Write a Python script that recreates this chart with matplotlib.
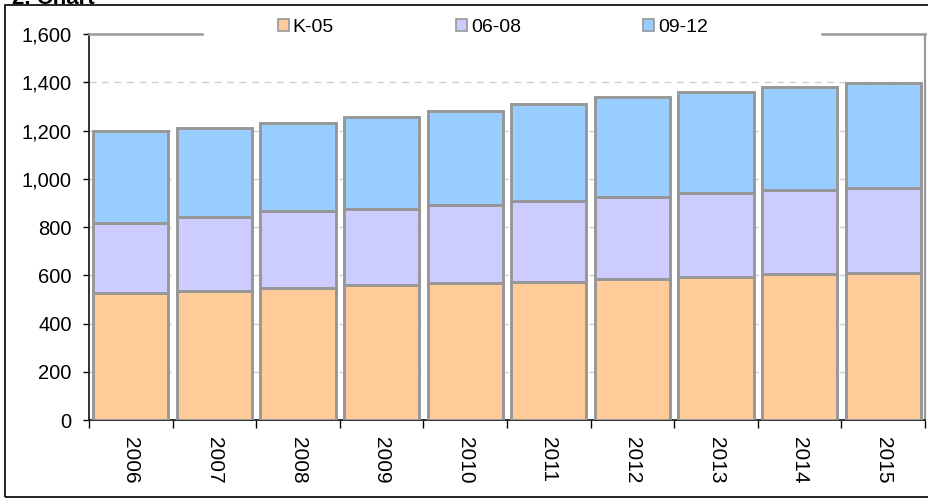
import matplotlib
matplotlib.use("Agg")
import matplotlib.pyplot as plt
from matplotlib.patches import Rectangle
from matplotlib.ticker import FuncFormatter
import numpy as np

years = ["2006", "2007", "2008", "2009", "2010", "2011", "2012", "2013", "2014", "2015"]
k_05 = [526, 536, 546, 558, 566, 572, 583, 594, 605, 611]
g06_08 = [292, 307, 319, 318, 324, 337, 343, 349, 348, 351]
g09_12 = [380, 366, 367, 381, 392, 402, 411, 416, 427, 433]

series = [("K-05", k_05, "#FFCC99"), ("06-08", g06_08, "#CCCCFF"), ("09-12", g09_12, "#99CCFF")]

plt.rcParams["font.family"] = ["Liberation Sans", "DejaVu Sans"]

fig = plt.figure(figsize=(9.29, 4.98), dpi=100)
ax = fig.add_axes([89 / 929, 1 - 420 / 498, 836 / 929, 386 / 498])

x = np.arange(len(years))
bottom = np.zeros(len(years))
for name, vals, col in series:
    ax.bar(x, vals, width=0.9, bottom=bottom, color=col, edgecolor="#979797",
           linewidth=2.1, label=name, zorder=3)
    bottom += np.array(vals)

ax.set_xlim(-0.5, len(years) - 0.5)
ax.set_ylim(0, 1600)
ax.set_yticks(np.arange(0, 1601, 200))
ax.yaxis.set_major_formatter(FuncFormatter(lambda v, p: f"{int(v):,}"))
ax.tick_params(axis="y", direction="out", length=4.5, width=1, color="black",
               labelsize=14.5, pad=8)

# ticks between categories, labels centred under bars
ax.set_xticks(np.arange(-0.5, len(years), 1))
ax.set_xticklabels([])
ax.set_xticks(x, minor=True)
ax.set_xticklabels(years, minor=True, rotation=270, fontsize=15)
ax.tick_params(axis="x", which="major", direction="out", length=6, width=1, color="black")
ax.tick_params(axis="x", which="minor", length=0, pad=12)

ax.yaxis.grid(True, color="#d0d0d0", linestyle=(0, (5, 4)), linewidth=1)
ax.get_ygridlines()[-1].set_visible(False)
ax.set_axisbelow(True)

ax.spines["left"].set_color("#222222")
ax.spines["left"].set_linewidth(1.3)
ax.spines["bottom"].set_color("#222222")
ax.spines["bottom"].set_linewidth(1.3)
ax.spines["right"].set_color("#999999")
ax.spines["right"].set_linewidth(1.6)
ax.spines["top"].set_visible(False)

# top border of the plot area, broken where the legend sits
for x0, x1 in [(0, (202 - 89) / 836), ((822 - 89) / 836, 1)]:
    ax.plot([x0, x1], [1, 1], transform=ax.transAxes, color="#999999",
            linewidth=1.8, clip_on=False, zorder=5)

leg = ax.legend(loc="center", bbox_to_anchor=(0.483, 1.018), ncol=3, frameon=False,
                fontsize=14, handlelength=0.55, handleheight=0.55, handletextpad=0.2,
                columnspacing=6.3, borderaxespad=0)
for h in leg.legend_handles:
    h.set_linewidth(1.2)

fig.patches.append(Rectangle((5 / 929, 1 / 498), 1.0, 1 - 6 / 498, transform=fig.transFigure,
                             fill=False, edgecolor="black", linewidth=1.2))
fig.text(12 / 929, 1 - 4 / 498, "2. Chart", fontsize=16, fontweight="bold", va="baseline")

fig.savefig("out.png", dpi=100)
